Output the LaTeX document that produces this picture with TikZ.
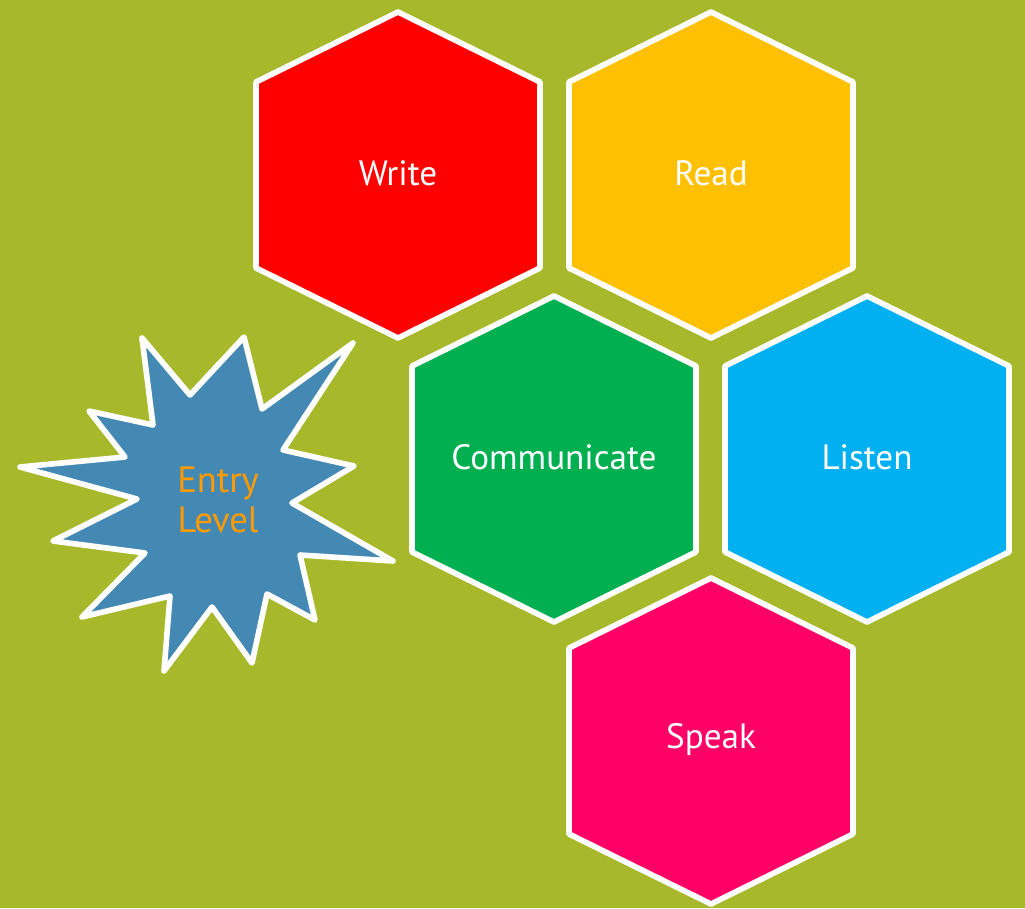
\documentclass[tikz,border=0pt]{standalone}
\usepackage{fontspec}
\setmainfont{PT Sans}
\usepackage{xcolor}

\definecolor{bggreen}{HTML}{A7B82A}
\definecolor{writered}{HTML}{FF0000}
\definecolor{readyellow}{HTML}{FFC000}
\definecolor{commgreen}{HTML}{00B050}
\definecolor{listenblue}{HTML}{00B0F0}
\definecolor{speakpink}{HTML}{FF0066}
\definecolor{starblue}{HTML}{4389B3}
\definecolor{entryorange}{HTML}{FF9A00}

\begin{document}
\begin{tikzpicture}[
  x=0.025cm, y=-0.025cm,
  every node/.style={font=\fontsize{25}{30}\selectfont},
  hexcell/.style={draw=white, line width=4pt, line join=round},
  hexlabel/.style={text=white, inner sep=2pt}
]
% Background
\fill[bggreen] (0,0) rectangle (1025,908);
\useasboundingbox (0,0) rectangle (1025,908);

% Hexagon cells: centre x / centre y / colour / name / text
\foreach \cx/\cy/\col/\nm/\txt in {398/175/writered/write/Write,
    711/175/readyellow/read/Read,
    554/459/commgreen/communicate/Communicate,
    867/459/listenblue/listen/Listen,
    711/741/speakpink/speak/Speak} {
  \filldraw[hexcell, fill=\col] (\cx,\cy-163) -- (\cx+142,\cy-93) -- (\cx+142,\cy+93)
    -- (\cx,\cy+163) -- (\cx-142,\cy+93) -- (\cx-142,\cy-93) -- cycle;
  \node[hexlabel] (\nm) at (\cx,\cy-2) {\txt};
}

% Star burst
\filldraw[fill=starblue, draw=white, line width=4pt, line join=round]
  (142,338) -- (190,395) -- (244,337) -- (262,409) -- (353,343) -- (283,450)
  -- (354,466) -- (292,503) -- (393,561) -- (300,555) -- (315,620) -- (267,594)
  -- (252,663) -- (212,607) -- (164,671) -- (170,596) -- (82,617) -- (145,553)
  -- (53,541) -- (137,499) -- (20,467) -- (125,457) -- (89,411) -- (153,425) -- cycle;
\node[text=entryorange, align=center, font=\fontsize{26}{28}\selectfont] (entry) at (218,500) {Entry\\Level};

\end{tikzpicture}
\end{document}
